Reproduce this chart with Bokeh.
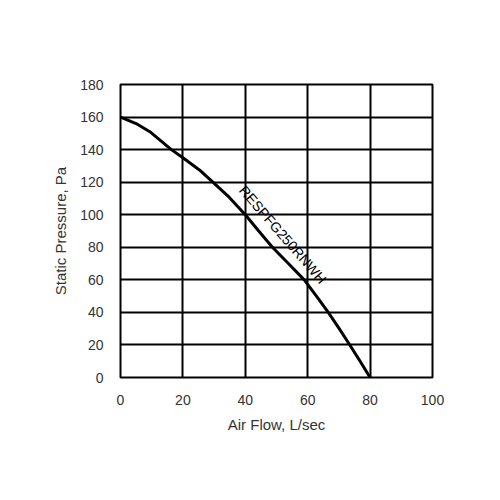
from bokeh.plotting import figure
from bokeh.embed import file_html
from bokeh.resources import INLINE
from bokeh.models import Range1d, FixedTicker
from bokeh.core.properties import value

# Data
air_flow = [0, 5, 9.4, 16.3, 20, 25.3, 29.6, 34.9, 40, 44.3, 48.7, 53.8, 58.9, 62.8, 66.6, 70.1, 73.5, 76.8, 80]
static_pressure = [160, 156, 151, 140, 135, 127.5, 120, 110.6, 100, 90, 80, 70, 60, 50, 40, 30, 20, 10, 0]
x_ticks = [0, 20, 40, 60, 80, 100]
y_ticks = [0, 20, 40, 60, 80, 100, 120, 140, 160, 180]
series_label = "RESPFG250RNWH"
x_title = "Air Flow, L/sec"
y_title = "Static Pressure, Pa"

FONT = "Liberation Sans"

p = figure(width=484, height=484, output_backend="svg", toolbar_location=None,
           x_range=Range1d(0, 100), y_range=Range1d(0, 180),
           frame_width=312, frame_height=293,
           min_border_left=120, min_border_top=84, min_border_right=52, min_border_bottom=107)

p.outline_line_color = "black"
p.outline_line_width = 2

for ax, ticks in ((p.xaxis[0], x_ticks), (p.yaxis[0], y_ticks)):
    ax.ticker = FixedTicker(ticks=ticks)
    ax.axis_line_color = None
    ax.major_tick_line_color = None
    ax.minor_tick_line_color = None
    ax.major_label_text_font = FONT
    ax.major_label_text_font_size = "14px"
    ax.major_label_text_color = "#333333"
    ax.axis_label_text_font = FONT
    ax.axis_label_text_font_size = "15px"
    ax.axis_label_text_font_style = "normal"
    ax.axis_label_text_color = "#333333"

p.xaxis.axis_label = x_title
p.yaxis.axis_label = y_title
p.xaxis.major_label_standoff = 11
p.yaxis.major_label_standoff = 11
p.xaxis.axis_label_standoff = 8
p.yaxis.axis_label_standoff = 8

p.xgrid.ticker = FixedTicker(ticks=x_ticks)
p.ygrid.ticker = FixedTicker(ticks=y_ticks)
for g in (p.xgrid[0], p.ygrid[0]):
    g.grid_line_color = "black"
    g.grid_line_width = 2

p.line(air_flow, static_pressure, line_color="black", line_width=3)

p.text(x=[38.95], y=[116.6], text=[series_label], angle=-49, angle_units="deg",
       text_font=value(FONT), text_font_size="14px", text_color="black",
       text_align="left", text_baseline="middle")

open("out.html", "w").write(file_html(p, INLINE))
